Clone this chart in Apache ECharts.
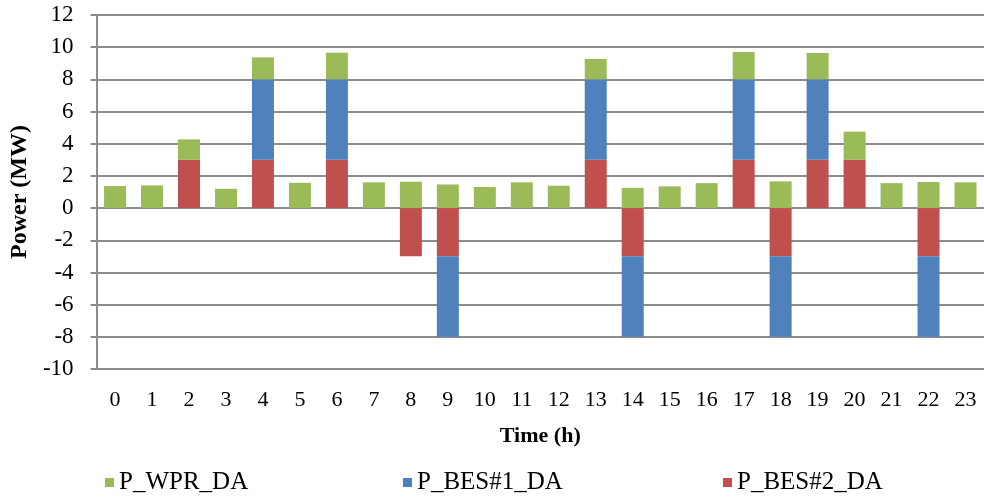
<!DOCTYPE html>
<html>
<head>
<meta charset="utf-8">
<script src="https://cdn.jsdelivr.net/npm/echarts@6/dist/echarts.min.js"></script>
<style>
  html, body { margin: 0; padding: 0; background: #fff; }
  #chart { width: 984px; height: 498px; }
</style>
</head>
<body>
<div id="chart"></div>
<script>
// Hourly day-ahead power schedule (MW)
const hours = ['0','1','2','3','4','5','6','7','8','9','10','11','12','13','14','15','16','17','18','19','20','21','22','23'];
const wprDA  = [1.37, 1.41, 1.27, 1.2, 1.37, 1.57, 1.66, 1.6, 1.64, 1.47, 1.31, 1.6, 1.39, 1.27, 1.26, 1.35, 1.55, 1.7, 1.66, 1.64, 1.75, 1.55, 1.62, 1.6];
const bes1DA = [0, 0, 0, 0, 5, 0, 5, 0, 0, -5, 0, 0, 0, 5, -5, 0, 0, 5, -5, 5, 0, 0, -5, 0];
const bes2DA = [0, 0, 3, 0, 3, 0, 3, 0, -3, -3, 0, 0, 0, 3, -3, 0, 0, 3, -3, 3, 3, 0, -3, 0];
const yTicks = { min: -10, max: 12, step: 2 };
const seriesNames = ['P_WPR_DA', 'P_BES#1_DA', 'P_BES#2_DA'];

const FONT = '"Liberation Serif", "Times New Roman", serif';
const chart = echarts.init(document.getElementById('chart'));

// one legend block per series, spread across the bottom
const legendLeft = [100, 398, 718];
const legends = seriesNames.map((n, i) => ({
  data: [n],
  left: legendLeft[i],
  top: 465,
  itemWidth: 9,
  itemHeight: 9,
  icon: 'rect',
  textStyle: { fontFamily: FONT, fontSize: 25, color: '#000' }
}));

chart.setOption({
  animation: false,
  backgroundColor: '#ffffff',
  grid: { left: 95, top: 15, width: 894, height: 354 },
  legend: legends,
  xAxis: {
    type: 'category',
    data: hours,
    position: 'bottom',
    axisLine: { show: false, onZero: false },
    axisTick: { show: false },
    axisLabel: { fontFamily: FONT, fontSize: 22, color: '#000', margin: 20 },
    name: 'Time (h)',
    nameLocation: 'middle',
    nameGap: 56,
    nameTextStyle: { fontFamily: FONT, fontSize: 22, fontWeight: 'bold', color: '#000' }
  },
  yAxis: {
    type: 'value',
    min: yTicks.min,
    max: yTicks.max,
    interval: yTicks.step,
    axisLine: { show: true, lineStyle: { color: '#8c8c8c', width: 2 } },
    axisTick: { show: true, length: 6, lineStyle: { color: '#8c8c8c', width: 2 } },
    splitLine: { show: true, lineStyle: { color: '#8c8c8c', width: 2 } },
    axisLabel: { fontFamily: FONT, fontSize: 23, color: '#000', margin: 23 },
    name: 'Power (MW)',
    nameLocation: 'middle',
    nameGap: 63,
    nameTextStyle: { fontFamily: FONT, fontSize: 24, fontWeight: 'bold', color: '#000' }
  },
  series: [
    {
      name: 'P_BES#2_DA', type: 'bar', stack: 'total', data: bes2DA,
      barWidth: 22, itemStyle: { color: '#C0504D' }
    },
    {
      name: 'P_BES#1_DA', type: 'bar', stack: 'total', data: bes1DA,
      barWidth: 22, itemStyle: { color: '#4F81BD' }
    },
    {
      name: 'P_WPR_DA', type: 'bar', stack: 'total', data: wprDA,
      barWidth: 22, itemStyle: { color: '#9BBB59' }
    }
  ]
});
</script>
</body>
</html>
